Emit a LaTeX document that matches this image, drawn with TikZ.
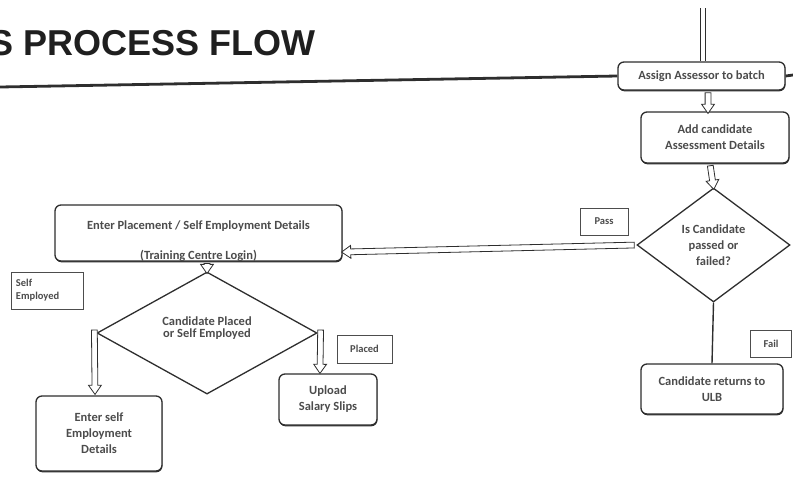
\documentclass[tikz,border=0pt]{standalone}
\usepackage{fontspec}
\setmainfont{Carlito}
\newfontfamily\titlefont{Liberation Sans}
\usetikzlibrary{shapes.geometric,shapes.arrows,shadows,calc}
\definecolor{ink}{gray}{0.18}
\definecolor{txt}{gray}{0.3}
\tikzset{
  boxtext/.style={font=\bfseries\fontsize{12.5}{16}\selectfont, text=txt, align=center},
  box/.style={draw=ink, line width=1.3pt, rounded corners=6pt, fill=white, inner sep=0pt, boxtext,
    drop shadow={shadow xshift=0.4pt, shadow yshift=-1.3pt, fill=ink, opacity=1}},
  dia/.style={draw=ink, line width=1.3pt, diamond, fill=white, inner sep=0pt, boxtext},
  lbl/.style={draw=ink!85, line width=0.9pt, fill=white, inner sep=0pt, font=\bfseries\fontsize{10.5}{13}\selectfont, text=txt},
  hollowtip/.style={single arrow, draw=ink, line width=0.8pt, fill=white, inner sep=2.5pt,
    single arrow head extend=3.5pt, single arrow tip angle=70, sloped, allow upside down, anchor=center},
  rule/.style={draw=ink, line width=2.8pt},
  plainline/.style={draw=ink, line width=1.4pt},
}
\newcommand\hollowarrow[2]{\path let \p1=(#1), \p2=(#2), \n1={veclen(\x2-\x1,\y2-\y1)} in (\p1) -- (\p2) node[hollowtip, midway, minimum height=\n1]{};}
\begin{document}
\begin{tikzpicture}[x=1pt,y=-1pt]
\useasboundingbox (0,0) rectangle (793,483);
\clip (0,0) rectangle (793,483);
% title
\node[anchor=base west, font=\titlefont\bfseries\fontsize{36}{36}\selectfont, text=black!88, inner sep=0pt] (title) at (-11,55) {S PROCESS FLOW};
% nodes
\node[box, minimum width=167pt, minimum height=28pt] (assign) at (701.5,76) {Assign Assessor to batch};
\node[box, minimum width=148pt, minimum height=51pt] (add) at (715,137.5) {Add candidate\\Assessment Details};
\node[dia, minimum width=153pt, minimum height=114pt] (d1) at (713.5,245) {Is Candidate\\passed or\\failed?};
\node[box, minimum width=142pt, minimum height=50pt] (ret) at (712,389) {Candidate returns to\\ULB};
\node[box, minimum width=287pt, minimum height=56pt] (enter) at (198.5,233) {\raisebox{-11pt}[0pt][0pt]{\begin{tabular}{@{}c@{}}Enter Placement / Self Employment Details\\[14pt](Training Centre Login)\end{tabular}}};
\node[dia, minimum width=220pt, minimum height=96pt] (d2) at (207,333) {\raisebox{12pt}{\shortstack{Candidate Placed\\or Self Employed}}};
\node[box, minimum width=126pt, minimum height=75pt] (selfbox) at (99,433.5) {Enter self\\Employment\\Details};
\node[box, minimum width=98pt, minimum height=51pt] (upload) at (328,399.5) {Upload\\Salary Slips};
% labels
\node[lbl, minimum width=48pt, minimum height=27pt] (pass) at (604,221.5) {Pass};
\node[lbl, minimum width=41pt, minimum height=27pt] (fail) at (771,344) {Fail};
\node[lbl, minimum width=55pt, minimum height=28pt] (placed) at (364.5,349) {Placed};
\node[lbl, minimum width=72pt, minimum height=37pt, align=left, text width=62pt] (selfemp) at (47,290.5) {Self\\Employed};
% rule line
\coordinate (ruleL) at (0,87);
\coordinate (ruleR) at (793,75);
\coordinate (topin) at (703,8);
\draw[rule] (ruleL) -- (assign.west);
\draw[rule] (assign.east) -- (ruleR);
% connectors
\draw[ink, line width=0.8pt, double=white, double distance=3.5pt] (topin) -- (topin |- assign.north);
\hollowarrow{$(assign.south)+(6.5,0)$}{$(add.north)+(-7,0)$}
\hollowarrow{$(add.south)+(-5,0)$}{d1.north}
\hollowarrow{d1.west}{$(enter.east)+(1,19)$}
\hollowarrow{enter.south -| d2.north}{d2.north}
\hollowarrow{$(d2.west)+(-2,-5)$}{$(selfbox.north)+(-4,-3)$}
\hollowarrow{$(d2.east)+(3,-5)$}{$(upload.north)+(-8,-2)$}
\draw[plainline] (d1.south) -- (ret.north);
\end{tikzpicture}
\end{document}
